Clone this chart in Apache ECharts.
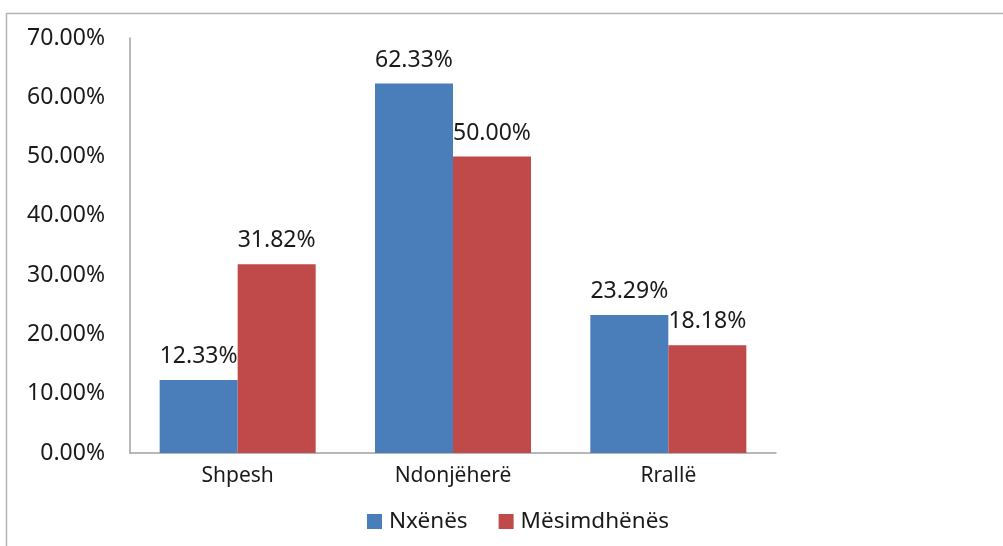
<!DOCTYPE html>
<html>
<head>
<meta charset="utf-8">
<script src="https://cdn.jsdelivr.net/npm/echarts@6/dist/echarts.min.js"></script>
<style>
  html, body { margin: 0; padding: 0; background: #fff; }
  #chart { width: 1003px; height: 546px; }
</style>
</head>
<body>
<div id="chart"></div>
<script>
// data
const categories = ['Shpesh', 'Ndonjëherë', 'Rrallë'];
const nxenes = [12.33, 62.33, 23.29];
const mesimdhenes = [31.82, 50.00, 18.18];
const seriesNames = ['Nxënës', 'Mësimdhënës'];

const font = 'Noto Sans';
const chart = echarts.init(document.getElementById('chart'));

// label shown on top of each bar
function barLabel() {
  return {
    show: true,
    position: 'top',
    distance: 12,
    color: '#1a1a1a',
    fontFamily: font,
    fontSize: 23,
    formatter: (p) => p.value.toFixed(2) + '%'
  };
}

chart.setOption({
  backgroundColor: '#fff',
  animation: false,
  graphic: [{
    type: 'rect',
    shape: { x: 6.5, y: 13.5, width: 1000, height: 600 },
    style: { fill: 'none', stroke: '#b4b4b4', lineWidth: 1.5 },
    silent: true
  }],
  grid: { left: 130, right: 227, top: 38, bottom: 93 },
  legend: {
    data: seriesNames,
    left: 362,
    top: 505,
    itemWidth: 15,
    itemHeight: 15,
    itemGap: 31,
    icon: 'rect',
    textStyle: { fontFamily: font, fontSize: 22.5, color: '#1a1a1a', padding: [0, 0, 0, 2] }
  },
  xAxis: {
    type: 'category',
    data: categories,
    axisLine: { lineStyle: { color: '#a0a0a0', width: 1.5 } },
    axisTick: { show: false },
    axisLabel: { margin: 13, fontFamily: font, fontSize: 21, color: '#1a1a1a' }
  },
  yAxis: {
    type: 'value',
    min: 0,
    max: 70,
    interval: 10,
    axisLine: { show: true, lineStyle: { color: '#a0a0a0', width: 1.5 } },
    axisTick: { show: false },
    splitLine: { show: false },
    axisLabel: {
      margin: 25,
      fontFamily: font,
      fontSize: 23,
      color: '#1a1a1a',
      formatter: (v) => v.toFixed(2) + '%'
    }
  },
  series: [
    {
      name: seriesNames[0],
      type: 'bar',
      data: nxenes,
      barWidth: 78,
      barGap: '0%',
      itemStyle: { color: '#4a7ebb' },
      label: barLabel()
    },
    {
      name: seriesNames[1],
      type: 'bar',
      data: mesimdhenes,
      barWidth: 78,
      barGap: '0%',
      itemStyle: { color: '#c0494a' },
      label: barLabel()
    }
  ]
});
</script>
</body>
</html>
